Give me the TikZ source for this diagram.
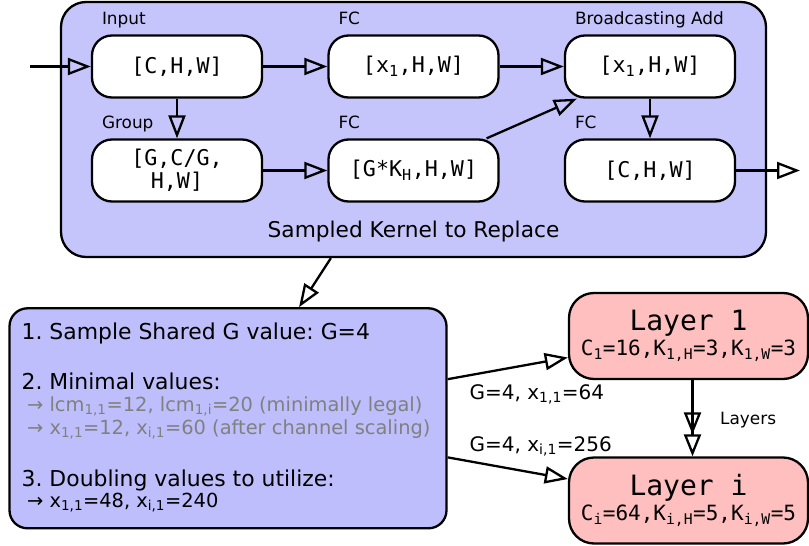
\documentclass[tikz,border=0pt]{standalone}
\usepackage{fontspec}
\setmainfont{DejaVu Sans}
\setmonofont{DejaVu Sans Mono}
\usetikzlibrary{arrows.meta}
\definecolor{kernelfill}{RGB}{197,197,252}
\definecolor{stepfill}{RGB}{190,190,252}
\definecolor{layerfill}{RGB}{255,191,191}
\newcommand{\fsize}[1]{\fontsize{#1}{#1}\selectfont}
\frenchspacing

\begin{document}
\begin{tikzpicture}
[x=1pt,y=-1pt,line width=2.3pt,>={Triangle[open,length=23pt,width=17pt]},
tensor/.style = {draw, fill=white, rounded corners=20pt, minimum width=170pt, minimum height=62pt, inner sep=0pt, align=center, font=\ttfamily\fontsize{21.7}{23}\selectfont},
tag/.style = {anchor=south west, xshift=10pt, yshift=5pt, inner sep=0pt, text depth=4pt, font=\fsize{16.9}},
layer/.style = {draw, fill=layerfill, rounded corners=25pt, minimum width=239pt, minimum height=86pt, inner sep=0pt, align=center, font=\ttfamily\fontsize{21}{25}\selectfont},
txt/.style = {anchor=base west, inner sep=0pt, font=\fsize{21.9}},
small/.style = {anchor=base west, inner sep=0pt, font=\fsize{19.4}},
]

\useasboundingbox (0,0) rectangle (809,546);

% sampled kernel
\node (kernel) at (413.5,129.5)[draw,fill=kernelfill,rounded corners=25pt,minimum width=705pt,minimum height=255pt] {};
\node (kname) at (413.5,237.5)[anchor=base,inner sep=0pt,font=\fsize{21.7}] {Sampled Kernel to Replace};

\node (inpt) at (177,66.5)[tensor,label={[tag]north west:Input}] {[C,H,W]};
\node (fc1) at (413.5,66.5)[tensor,label={[tag]north west:FC}] {[x\textsubscript{1},H,W]};
\node (add) at (650,66.5)[tensor,label={[tag]north west:Broadcasting Add}] {[x\textsubscript{1},H,W]};
\node (grp) at (177,170.5)[tensor,label={[tag]north west:Group}] {[G,C/G,\\H,W]};
\node (fc2) at (413.5,170.5)[tensor,label={[tag]north west:FC}] {[G*K\textsubscript{H},H,W]};
\node (fc3) at (650,170.5)[tensor,label={[tag]north west:FC}] {[C,H,W]};
\coordinate (inp) at (30,66.5);
\coordinate (outp) at (800,170.5);

\draw[->] (inp)--(inpt);
\draw[->] (inpt)--(fc1);
\draw[->] (fc1)--(add);
\draw[->] (inpt)--(grp);
\draw[->] (grp)--(fc2);
\draw[->] (fc2)--(add);
\draw[->] (add)--(fc3);
\draw[->] (fc3)--(outp);

% sampling steps
\node (steps) at (228,418.3)[draw,fill=stepfill,rounded corners=18pt,minimum width=437pt,minimum height=220pt] {};
\node (s1) at (20.5,339)[txt] {1. Sample Shared G value: G=4};
\node (s2) at (20.5,389.5)[txt] {2. Minimal values:};
\node (s2a) at (26,411.5)[small,text=gray] {→ lcm\textsubscript{1,1}=12, lcm\textsubscript{1,i}=20 (minimally legal)};
\node (s2b) at (26,434)[small,text=gray] {→ x\textsubscript{1,1}=12, x\textsubscript{i,1}=60 (after channel scaling)};
\node (s3) at (20.5,486)[txt] {3. Doubling values to utilize:};
\node (s3a) at (26,507.5)[small] {→ x\textsubscript{1,1}=48, x\textsubscript{i,1}=240};

\draw[->] (kernel)--(steps);

% layers
\node (layer1) at (688.5,336)[layer] {{\fsize{28}Layer 1}\\C\textsubscript{1}=16,K\textsubscript{1,H}=3,K\textsubscript{1,W}=3};
\node (layeri) at (688.5,500.5)[layer] {{\fsize{28}Layer i}\\C\textsubscript{i}=64,K\textsubscript{i,H}=5,K\textsubscript{i,W}=5};
\node (g1) at (468.5,399.5)[anchor=base west,inner sep=0pt,font=\fsize{20}] {G=4, x\textsubscript{1,1}=64};
\node (gi) at (468.5,451.5)[anchor=base west,inner sep=0pt,font=\fsize{20}] {G=4, x\textsubscript{i,1}=256};
\node (lay) at (719,424)[anchor=base west,inner sep=0pt,font=\fsize{16.9}] {Layers};

\draw[->] (steps)--(layer1);
\draw[->] (steps)--(layeri);
\draw[-{Triangle[open,length=22pt,width=17pt,sep=0pt]Triangle[open,length=22pt,width=17pt]}] ([xshift=4pt]layer1.south)--([xshift=4pt]layeri.north);

\end{tikzpicture}
\end{document}
